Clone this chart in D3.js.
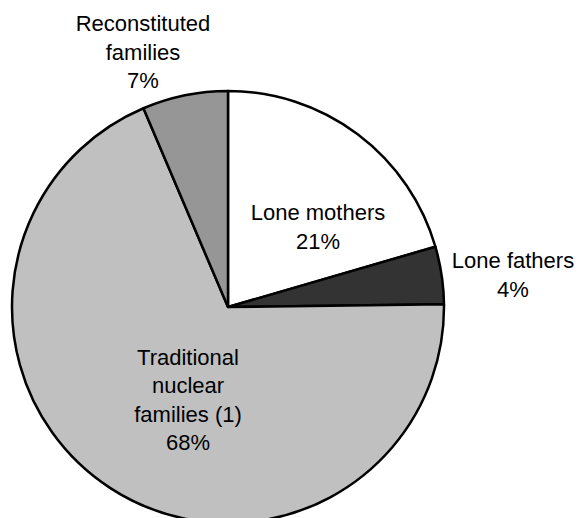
<!DOCTYPE html>
<html>
<head>
<meta charset="utf-8">
<script src="https://cdn.jsdelivr.net/npm/d3@7"></script>
<style>
  body { margin: 0; background: #fff; }
  text { font-family: "Liberation Sans", Arial, sans-serif; fill: #000; }
</style>
</head>
<body>
<div id="chart"></div>
<script>
const width = 578;
const height = 518;
const cx = 228;
const cy = 307;
const radius = 216;

// data, clockwise from 12 o'clock
const categories = ["Lone mothers", "Lone fathers", "Traditional nuclear families (1)", "Reconstituted families"];
const shares = [20.5, 4.3, 68.8, 6.4];
const shareLabels = ["21%", "4%", "68%", "7%"];
const labelLines = [
    ["Lone mothers"],
    ["Lone fathers"],
    ["Traditional", "nuclear", "families (1)"],
    ["Reconstituted", "families"]
];
const fills = ["#ffffff", "#333333", "#c0c0c0", "#969696"];

// label anchor (centre of text block) relative to pie centre
const labelOffsets = [[90, -80], [285, -32], [-40, 93], [-85, -255]];

const svg = d3.select("#chart")
    .append("svg")
    .attr("width", width)
    .attr("height", height)
    .attr("viewBox", [0, 0, width, height]);

const pie = d3.pie().sort(null).value(d => d)(shares);
const arc = d3.arc().innerRadius(0).outerRadius(radius);

const g = svg.append("g").attr("transform", `translate(${cx},${cy})`);

g.selectAll("path")
    .data(pie)
    .enter()
    .append("path")
    .attr("d", arc)
    .attr("fill", (d, i) => fills[i])
    .attr("stroke", "#000")
    .attr("stroke-width", 2.5)
    .attr("stroke-linejoin", "round");

const lineH = 28.5;
const fontSize = 22;

labelLines.forEach((lines, i) => {
    const all = lines.concat([shareLabels[i]]);
    const [ox, oy] = labelOffsets[i];
    const top = oy - (all.length - 1) * lineH / 2;
    const t = g.append("text")
        .attr("text-anchor", "middle")
        .style("font-size", fontSize + "px");
    all.forEach((s, k) => {
        t.append("tspan")
            .attr("x", ox)
            .attr("y", top + k * lineH)
            .attr("dy", "0.35em")
            .text(s);
    });
});
</script>
</body>
</html>
